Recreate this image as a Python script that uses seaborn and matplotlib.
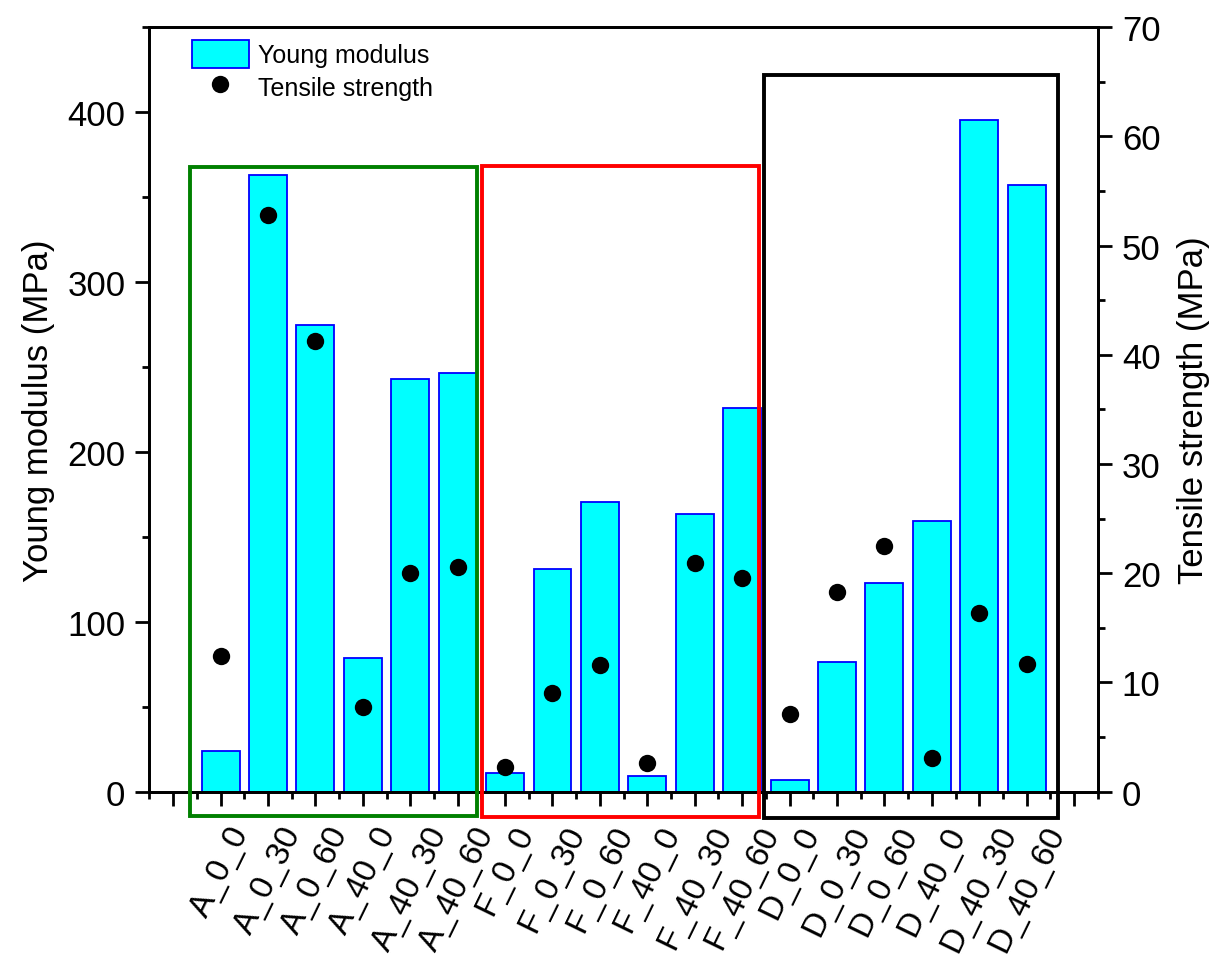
import numpy as np
import pandas as pd
import matplotlib
matplotlib.use("Agg")
import matplotlib.pyplot as plt
import seaborn as sns
from matplotlib.patches import Rectangle
from matplotlib.ticker import MultipleLocator, FixedLocator

# ---- data ----
samples = ["A_0_0", "A_0_30", "A_0_60", "A_40_0", "A_40_30", "A_40_60",
           "F_0_0", "F_0_30", "F_0_60", "F_40_0", "F_40_30", "F_40_60",
           "D_0_0", "D_0_30", "D_0_60", "D_40_0", "D_40_30", "D_40_60"]
young_modulus = [24, 363, 275, 78.5, 243, 246.5,
                 11, 131, 170.5, 9, 163.5, 226,
                 7, 76.5, 123, 159.5, 395.5, 357]
tensile_strength = [12.4, 52.8, 41.3, 7.8, 20.0, 20.6,
                    2.3, 9.0, 11.6, 2.6, 20.9, 19.6,
                    7.1, 18.3, 22.5, 3.1, 16.4, 11.7]

# group boxes (in left-axis data units)
box_x0 = [-0.65, 5.52, 11.46]
box_x1 = [5.40, 11.36, 17.67]
box_y0 = [-14.1, -14.9, -15.2]
box_y1 = [367.6, 368.2, 422.0]
box_colors = ["#008000", "#ff0000", "#000000"]

df = pd.DataFrame({"sample": samples, "young": young_modulus, "tensile": tensile_strength})

sns.set_style("ticks")
plt.rcParams["font.family"] = ["Liberation Sans", "DejaVu Sans"]
plt.rcParams.update({"text.color": "black", "axes.labelcolor": "black",
                     "xtick.color": "black", "ytick.color": "black",
                     "axes.edgecolor": "black", "axes.linewidth": 2.0})

fig = plt.figure(figsize=(12.13, 9.62), dpi=100)
ax = fig.add_axes([0.1228, 0.176, 0.7826, 0.7946])

sns.barplot(data=df, x="sample", y="young", color="#00ffff", saturation=1,
            edgecolor="#0000ff", linewidth=1.3, width=0.8, ax=ax, zorder=2)

ax2 = ax.twinx()
sns.stripplot(data=df, x="sample", y="tensile", jitter=False, color="black",
              size=12.5, linewidth=0, ax=ax2, zorder=3)

# axes limits and ticks
ax.set_xlim(-1.51, 18.51)
ax.set_ylim(0, 450)
ax2.set_ylim(0, 70)

ax.set_xticks(np.arange(-1, 19))
ax.set_xticklabels([""] + samples + [""], rotation=64)
ax.xaxis.set_minor_locator(FixedLocator(np.arange(-1.5, 19, 1.0)))

ax.yaxis.set_major_locator(FixedLocator([0, 100, 200, 300, 400]))
ax.yaxis.set_minor_locator(FixedLocator(np.arange(50, 451, 100)))
ax2.yaxis.set_major_locator(MultipleLocator(10))
ax2.yaxis.set_minor_locator(MultipleLocator(5))

for a in (ax, ax2):
    a.tick_params(which="major", length=10, width=2, labelsize=25, direction="out",
                  color="black", labelcolor="black")
    a.tick_params(which="minor", length=5, width=2, direction="out", color="black")
    for s in a.spines.values():
        s.set_visible(True)
        s.set_linewidth(2.0)
        s.set_color("black")

ax.tick_params(axis="x", which="major", pad=11, labelsize=24)
ax.tick_params(axis="y", pad=7)
ax2.tick_params(axis="y", pad=7)

ax.set_xlabel("")
ax2.set_xlabel("")
ax.set_ylabel("Young modulus (MPa)", fontsize=25, labelpad=9)
ax2.set_ylabel("Tensile strength (MPa)", fontsize=25, labelpad=12)

# group boxes
for x0, x1, y0, y1, c in zip(box_x0, box_x1, box_y0, box_y1, box_colors):
    ax2.add_patch(Rectangle((x0, y0), x1 - x0, y1 - y0, fill=False, edgecolor=c,
                            linewidth=2.8, transform=ax.transData, clip_on=False, zorder=5))
ax2.set_ylim(0, 70)
ax.set_xlim(-1.51, 18.51)

# legend
handles = [ax.containers[0], ax2.collections[0]]
ax2.legend(handles, ["Young modulus", "Tensile strength"], loc="upper left",
           bbox_to_anchor=(0.045, 0.984), frameon=False, fontsize=18,
           handlelength=2.3, handleheight=1.35, handletextpad=0.35,
           labelspacing=0.2, borderpad=0, borderaxespad=0, markerscale=1.0)

fig.savefig("out.png", dpi=100)
